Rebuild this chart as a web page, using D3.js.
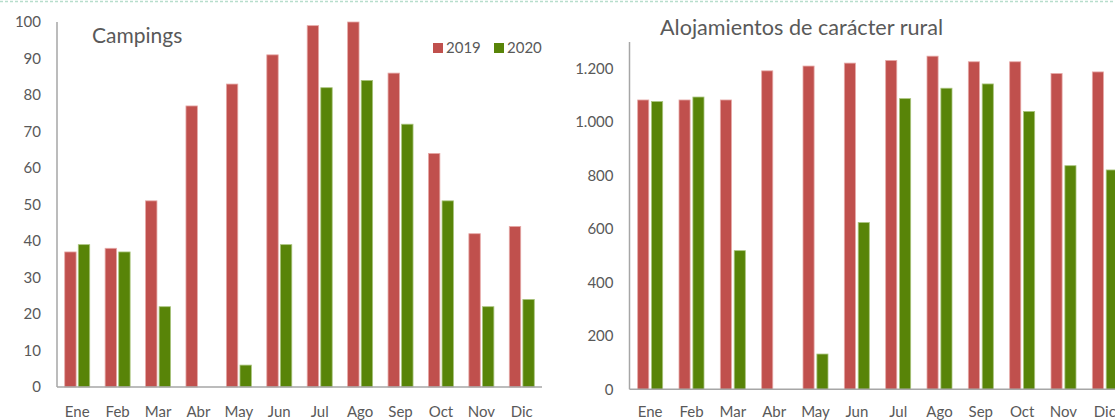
<!DOCTYPE html>
<html>
<head>
<meta charset="utf-8"/>
<title>Campings y alojamientos rurales</title>
<script src="https://cdn.jsdelivr.net/npm/d3@7"></script>
<style>
  body { margin: 0; background: #fff; }
  svg { display: block; font-family: "Lato", "Noto Sans", sans-serif; }
  .axis-line { stroke: #a6a6a6; stroke-width: 1.5; }
  .tick-label, .month-label, .legend text { fill: #595959; font-size: 15px; }
  .chart-title { fill: #595959; font-size: 21px; }
  .bar-2019 { fill: #c0504d; stroke: #e6a9a7; }
  .bar-2020 { fill: #588408; stroke: #a9c47d; }
</style>
</head>
<body>
<svg width="1115" height="420"></svg>
<script>
// data
var months = ["Ene", "Feb", "Mar", "Abr", "May", "Jun", "Jul", "Ago", "Sep", "Oct", "Nov", "Dic"];
var years = ["2019", "2020"];

var campings2019 = [37, 38, 51, 77, 83, 91, 99, 100, 86, 64, 42, 44];
var campings2020 = [39, 37, 22, 0, 6, 39, 82, 84, 72, 51, 22, 24];

var rural2019 = [1083, 1083, 1083, 1192, 1210, 1221, 1231, 1247, 1226, 1226, 1182, 1188];
var rural2020 = [1077, 1094, 519, 0, 132, 624, 1088, 1127, 1143, 1040, 837, 821];

var campingTicks = d3.range(0, 101, 10);
var ruralTicks = d3.range(0, 1201, 200);

var es = d3.formatLocale({decimal: ",", thousands: ".", grouping: [3], currency: ["", " €"]});
var fmtThousands = es.format(",");

var svg = d3.select("svg");

// dashed top border
svg.append("line")
    .attr("x1", 0).attr("x2", 1115)
    .attr("y1", 1.5).attr("y2", 1.5)
    .attr("stroke", "#b7ddcc")
    .attr("stroke-width", 1.5)
    .attr("stroke-dasharray", "3,2");

function drawChart(opt) {
  var g = svg.append("g");

  var x = d3.scaleBand().domain(months).range(opt.xRange);
  var x1 = d3.scaleBand().domain(years).range([0, opt.group]).paddingInner(opt.inner);
  var y = d3.scaleLinear().domain(opt.yDomain).range(opt.yRange);

  var rows = months.map(function(m, i) {
    return {month: m, values: [
      {year: "2019", value: opt.s2019[i]},
      {year: "2020", value: opt.s2020[i]}
    ]};
  });

  // bars
  g.selectAll(".month")
    .data(rows)
    .enter().append("g")
      .attr("transform", function(d) {
        return "translate(" + (x(d.month) + (x.bandwidth() - opt.group) / 2) + ",0)"; })
    .selectAll("rect")
    .data(function(d) { return d.values; })
    .enter().append("rect")
      .attr("class", function(d) { return "bar-" + d.year; })
      .attr("x", function(d) { return x1(d.year); })
      .attr("width", x1.bandwidth())
      .attr("y", function(d) { return y(d.value); })
      .attr("height", function(d) { return y(0) - y(d.value); })
      .attr("stroke-width", function(d) { return d.value > 0 ? 0.8 : 0; });

  // y axis line
  g.append("line")
    .attr("class", "axis-line")
    .attr("x1", opt.xRange[0]).attr("x2", opt.xRange[0])
    .attr("y1", opt.yRange[1]).attr("y2", y(0));

  // x axis line
  g.append("line")
    .attr("class", "axis-line")
    .attr("x1", opt.xRange[0]).attr("x2", opt.xRange[1])
    .attr("y1", y(0)).attr("y2", y(0));

  // y tick labels
  g.selectAll(".tick-label")
    .data(opt.ticks)
    .enter().append("text")
      .attr("class", "tick-label")
      .attr("x", opt.xRange[0] - 16)
      .attr("y", function(d) { return y(d); })
      .attr("dy", "0.35em")
      .attr("text-anchor", "end")
      .text(opt.fmt);

  // month labels
  g.selectAll(".month-label")
    .data(months)
    .enter().append("text")
      .attr("class", "month-label")
      .attr("x", function(d) { return x(d) + x.bandwidth() / 2; })
      .attr("y", 417)
      .attr("text-anchor", "middle")
      .text(function(d) { return d; });

  g.append("text")
    .attr("class", "chart-title")
    .attr("x", opt.titleX)
    .attr("y", opt.titleY)
    .style("font-size", opt.titleSize + "px")
    .text(opt.title);

  return g;
}

drawChart({
  title: "Campings", titleX: 92, titleY: 43, titleSize: 21,
  xRange: [57, 542], yRange: [387, 22], yDomain: [0, 100],
  group: 25, inner: 0.16,
  s2019: campings2019, s2020: campings2020,
  ticks: campingTicks, fmt: function(d) { return d; }
});

drawChart({
  title: "Alojamientos de carácter rural", titleX: 660, titleY: 35, titleSize: 21.6,
  xRange: [629.5, 1125.5], yRange: [389.3, 42], yDomain: [0, 1300],
  group: 25, inner: 0.2,
  s2019: rural2019, s2020: rural2020,
  ticks: ruralTicks, fmt: fmtThousands
});

// legend (left chart)
var legend = svg.append("g").attr("class", "legend");
var legendX = [433, 494];
years.forEach(function(yr, i) {
  legend.append("rect")
    .attr("class", "bar-" + yr)
    .attr("stroke-width", 0)
    .attr("x", legendX[i]).attr("y", 43)
    .attr("width", 10).attr("height", 10);
  legend.append("text")
    .attr("x", legendX[i] + 13).attr("y", 48)
    .attr("dy", "0.35em")
    .text(yr);
});
</script>
</body>
</html>
